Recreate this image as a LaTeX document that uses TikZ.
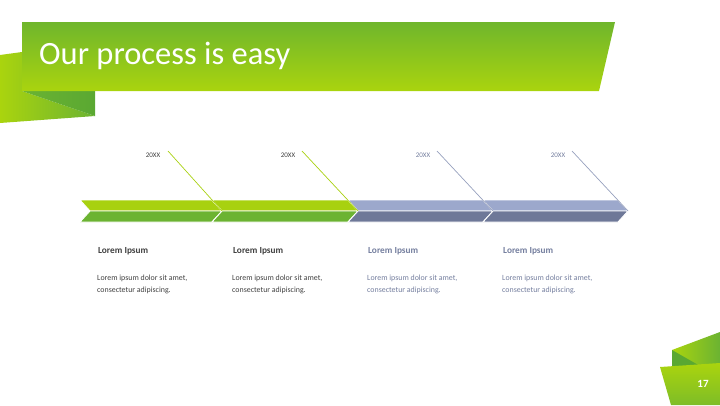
\documentclass[tikz,border=0pt]{standalone}
\usepackage{fontspec}
\setmainfont{Carlito}
\begin{document}
\begin{tikzpicture}[x=1pt,y=-1pt,
  seg/.style={draw=white,line width=0.9pt},
  yearlbl/.style={font=\fontsize{7}{8}\selectfont,inner sep=0pt},
  head/.style={font=\bfseries\fontsize{9.3}{11}\selectfont,anchor=west,inner sep=0pt},
  body/.style={font=\fontsize{7.9}{12}\selectfont,anchor=north west,inner sep=0pt,align=left},
  dline/.style={line width=0.7pt}]
\definecolor{green1}{HTML}{A8D10F}
\definecolor{green2}{HTML}{6BB332}
\definecolor{blue1}{HTML}{9CA8CC}
\definecolor{blue2}{HTML}{6E7898}
\definecolor{dgray}{HTML}{404040}
\definecolor{bgray}{HTML}{747E9E}
\definecolor{ltop}{HTML}{6FB62C}
\definecolor{lbot}{HTML}{AAD40E}
\definecolor{dfold}{HTML}{5AA832}
\useasboundingbox (0,0) rectangle (720,405);
% left flap
\shade[left color=lbot,right color=green2] (0,55) -- (22,52) -- (22,91) -- (95,116) -- (0,123) -- cycle;
\shade[left color=green2,right color=dfold] (22,91) -- (95,91) -- (95,116) -- cycle;
% banner
\shade[top color=ltop,bottom color=lbot] (22,22) -- (615,22) -- (599,91) -- (22,91) -- cycle;
\node[font=\fontsize{32.5}{36}\selectfont,text=white,anchor=west,inner sep=0pt] (title) at (39,56) {Our process is easy};
% timeline segments
\foreach \s/\e/\ca/\cb [count=\i] in {80/222/green1/green2,212/358/green1/green2,348/493/blue1/blue2,483/628/blue1/blue2}{
  \fill[\ca,seg] (\s,200) -- (\e-10,200) -- (\e,211) -- (\s+10,211) -- cycle;
  \fill[\cb,seg] (\s+10,211) -- (\e,211) -- (\e-10,222) -- (\s,222) -- cycle;
  \coordinate (t\i) at (\e,211);
}
% year labels and lines
\node[yearlbl,text=dgray] (y1) at (153,155) {20XX};
\node[yearlbl,text=dgray] (y2) at (288,155) {20XX};
\node[yearlbl,text=bgray] (y3) at (423,155) {20XX};
\node[yearlbl,text=bgray] (y4) at (558,155) {20XX};
\coordinate (d1) at (168,151);
\coordinate (d2) at (302,151);
\coordinate (d3) at (437,151);
\coordinate (d4) at (572,151);
\draw[dline,green1] (d1) -- (t1);
\draw[dline,green1] (d2) -- (t2);
\draw[dline,blue1!80!gray] (d3) -- (t3);
\draw[dline,blue1!80!gray] (d4) -- (t4);
% headings and text
\node[head,text=dgray] (h1) at (98,251) {Lorem Ipsum};
\node[head,text=dgray] (h2) at (233,251) {Lorem Ipsum};
\node[head,text=bgray] (h3) at (368,251) {Lorem Ipsum};
\node[head,text=bgray] (h4) at (503,251) {Lorem Ipsum};
\node[body,text=dgray] (b1) at (97,275) {Lorem ipsum dolor sit amet,\\consectetur adipiscing.};
\node[body,text=dgray] (b2) at (232,275) {Lorem ipsum dolor sit amet,\\consectetur adipiscing.};
\node[body,text=bgray] (b3) at (367,275) {Lorem ipsum dolor sit amet,\\consectetur adipiscing.};
\node[body,text=bgray] (b4) at (502,275) {Lorem ipsum dolor sit amet,\\consectetur adipiscing.};
% bottom right
\shade[left color=lbot,right color=green2] (672,350) -- (720,332) -- (720,364) -- (672,367) -- cycle;
\fill[dfold] (672,350) -- (700,366) -- (672,367) -- cycle;
\shade[top color=lbot,bottom color=green2!70!lbot] (660,367) -- (720,363) -- (720,405) -- (671,405) -- cycle;
\node[font=\bfseries\fontsize{11}{12}\selectfont,text=white,inner sep=0pt] (pg) at (703,384) {17};
\end{tikzpicture}
\end{document}
